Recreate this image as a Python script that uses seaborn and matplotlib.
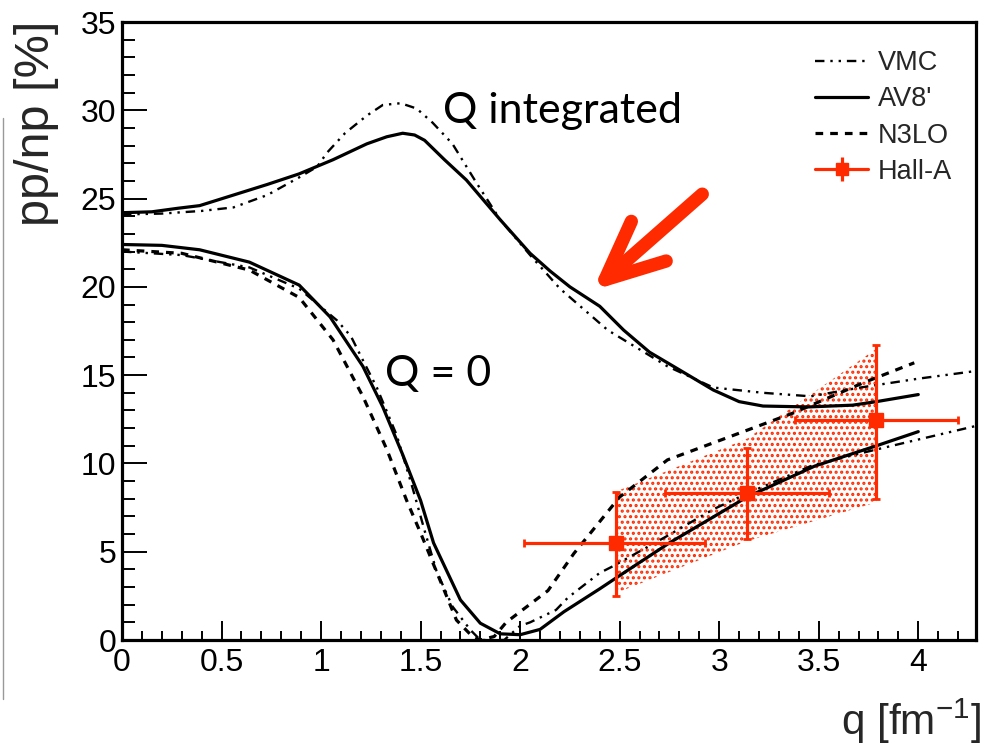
import matplotlib
matplotlib.use("Agg")
import matplotlib.pyplot as plt
import seaborn as sns
from matplotlib.lines import Line2D
from matplotlib.patches import ArrowStyle

# ---------------- data ----------------
# Q integrated curves
qint_av8_q = [0.0, 0.15, 0.28, 0.39, 0.56, 0.73, 0.89, 1.06, 1.23, 1.33, 1.41, 1.47, 1.52, 1.62,
              1.73, 1.90, 2.05, 2.15, 2.25, 2.40, 2.52, 2.65, 2.80, 2.97, 3.10, 3.22, 3.45,
              3.67, 3.79, 4.00]
qint_av8_r = [24.2, 24.25, 24.45, 24.6, 25.2, 25.8, 26.4, 27.2, 28.1, 28.5, 28.7, 28.6, 28.3, 27.2,
              26.05, 23.8, 21.9, 20.9, 20.0, 18.9, 17.55, 16.3, 15.3, 14.16, 13.5, 13.25, 13.2,
              13.3, 13.5, 13.9]

qint_vmc_q = [0.0, 0.2, 0.4, 0.56, 0.73, 0.89, 0.98, 1.03, 1.12, 1.23, 1.31, 1.40, 1.48, 1.56,
              1.66, 1.78, 1.90, 2.05, 2.20, 2.44, 2.74, 2.97, 3.22, 3.46, 3.71, 4.00, 4.30]
qint_vmc_r = [24.1, 24.15, 24.3, 24.5, 25.2, 26.2, 26.8, 27.6, 28.7, 29.7, 30.3, 30.4, 30.1, 29.3,
              28.1, 25.9, 23.8, 21.8, 19.9, 17.55, 15.5, 14.3, 14.0, 13.8, 14.3, 14.8, 15.25]

# Q = 0 curves
q0_av8_q = [0.0, 0.2, 0.39, 0.64, 0.89, 1.045, 1.21, 1.31, 1.41, 1.50, 1.565, 1.70, 1.80, 1.90,
            2.00, 2.10, 2.22, 2.40, 2.48, 2.75, 3.14, 3.48, 3.79, 4.00]
q0_av8_r = [22.4, 22.35, 22.1, 21.4, 20.1, 18.3, 15.5, 13.2, 10.5, 7.9, 5.5, 2.27, 0.95, 0.35,
            0.3, 0.6, 1.6, 2.9, 3.5, 5.5, 8.1, 9.85, 11.0, 11.8]

q0_n3lo_q = [0.0, 0.3, 0.64, 0.89, 1.06, 1.21, 1.33, 1.43, 1.50, 1.68, 1.76, 1.80, 1.87, 1.93,
             2.00, 2.14, 2.27, 2.50, 2.74, 3.05, 3.37, 3.72, 3.98]
q0_n3lo_r = [22.1, 21.9, 20.95, 19.4, 17.0, 13.8, 10.8, 7.9, 6.06, 1.13, 0.2, 0.0, 0.2, 1.0,
             1.6, 2.8, 4.9, 8.1, 10.2, 11.5, 12.85, 14.55, 15.7]

q0_vmc_q = [0.0, 0.3, 0.64, 0.89, 1.08, 1.15, 1.21, 1.28, 1.38, 1.46, 1.52, 1.58, 1.66, 1.75,
            1.80, 1.92, 2.00, 2.05, 2.18, 2.24, 2.40, 2.47, 2.74, 2.97, 3.14, 3.47, 3.72, 3.98, 4.30]
q0_vmc_r = [22.0, 21.8, 21.1, 19.9, 18.1, 17.2, 15.85, 14.3, 11.6, 8.6, 6.2, 3.9, 1.9, 0.57,
            0.0, 0.0, 0.8, 1.0, 1.7, 2.4, 3.8, 4.2, 5.9, 7.4, 8.3, 9.9, 10.6, 11.3, 12.15]

# Hall-A data points
halla_q = [2.48, 3.14, 3.79]
halla_r = [5.5, 8.3, 12.45]
halla_q_lo = [0.46, 0.41, 0.41]
halla_q_hi = [0.45, 0.41, 0.41]
halla_r_lo = [3.0, 2.6, 4.45]
halla_r_hi = [2.9, 2.6, 4.25]

# Hall-A uncertainty band
band_q = [2.48, 3.14, 3.79]
band_lo = [2.65, 5.6, 7.8]
band_hi = [8.4, 11.4, 16.5]

# Axis ticks
x_ticks = [0, 0.5, 1, 1.5, 2, 2.5, 3, 3.5, 4]
x_tick_labels = ["0", "0.5", "1", "1.5", "2", "2.5", "3", "3.5", "4"]
y_ticks = [0, 5, 10, 15, 20, 25, 30, 35]
y_tick_labels = ["0", "5", "10", "15", "20", "25", "30", "35"]

# ---------------- style ----------------
sns.set_style("white")
plt.rcParams["font.family"] = ["Liberation Sans", "DejaVu Sans"]
plt.rcParams["mathtext.fontset"] = "custom"
plt.rcParams["mathtext.rm"] = "Liberation Sans"
plt.rcParams["hatch.linewidth"] = 1.5

RED = "#FF2A00"
W, H = 984, 749
fig = plt.figure(figsize=(W / 100, H / 100), dpi=100)
fig.patch.set_facecolor("white")
ax = fig.add_axes([122 / W, 1 - 640 / H, (976 - 122) / W, (640 - 22) / H])
ax.set_facecolor("white")

# Hall-A band (red stipple)
ax.fill_between(band_q, band_lo, band_hi, facecolor="none", edgecolor=RED,
                hatch="...", linewidth=0, zorder=1)

vmc_dash = (0, (4, 2.5, 1, 2.5, 1, 2.5))
n3lo_dash = (0, (2.4, 2.2))

# curves
sns.lineplot(x=qint_vmc_q, y=qint_vmc_r, ax=ax, color="black", lw=1.7, sort=False,
             estimator=None, zorder=3)
ax.lines[-1].set_linestyle(vmc_dash)
sns.lineplot(x=qint_av8_q, y=qint_av8_r, ax=ax, color="black", lw=2.3, sort=False,
             estimator=None, zorder=3)
sns.lineplot(x=q0_vmc_q, y=q0_vmc_r, ax=ax, color="black", lw=1.7, sort=False,
             estimator=None, zorder=3)
ax.lines[-1].set_linestyle(vmc_dash)
sns.lineplot(x=q0_av8_q, y=q0_av8_r, ax=ax, color="black", lw=2.3, sort=False,
             estimator=None, zorder=3)
sns.lineplot(x=q0_n3lo_q, y=q0_n3lo_r, ax=ax, color="black", lw=2.3, sort=False,
             estimator=None, zorder=3)
ax.lines[-1].set_linestyle(n3lo_dash)

# Hall-A data
ax.errorbar(halla_q, halla_r, xerr=[halla_q_lo, halla_q_hi], yerr=[halla_r_lo, halla_r_hi],
            fmt="s", color=RED, ms=9.5, elinewidth=2.3, capsize=3, capthick=2,
            zorder=4, clip_on=False)

ax.set_xlim(0, 4.29)
ax.set_ylim(0, 35)
ax.set_xticks(x_ticks)
ax.set_xticklabels(x_tick_labels)
ax.set_yticks(y_ticks)
ax.set_yticklabels(y_tick_labels)
ax.set_xticks([i / 10 for i in range(0, 43) if i % 5], minor=True)
ax.set_yticks([i for i in range(0, 36) if i % 5], minor=True)
ax.tick_params(axis="both", which="both", direction="in", bottom=True, left=True,
               top=False, right=False, labelsize=23, colors="black", width=1.4)
ax.tick_params(axis="x", which="major", length=13.5, pad=6)
ax.tick_params(axis="x", which="minor", length=6.8)
ax.tick_params(axis="y", which="major", length=18, pad=4)
ax.tick_params(axis="y", which="minor", length=9.5)
for sp in ax.spines.values():
    sp.set_visible(True)
    sp.set_color("black")
    sp.set_linewidth(2.3)
    sp.set_zorder(5)

# axis titles
fig.text(37 / W, 1 - 21 / H, "pp/np [%]", rotation=90, ha="center", va="top", fontsize=35)
fig.text(981 / W, 3 / H, "q [fm$^{\\mathregular{-1}}$]", ha="right", va="bottom", fontsize=30.5)

# annotations
ax.text(1.613, 29.3, "Q integrated", fontsize=31, family=["Lato", "DejaVu Sans"],
        ha="left", va="baseline", color="black")
ax.text(1.32, 14.4, "Q = 0", fontsize=31, family=["Lato", "DejaVu Sans"],
        ha="left", va="baseline", color="black")
ax.annotate("", xy=(2.365, 19.8), xytext=(2.915, 25.25),
            arrowprops=dict(arrowstyle=ArrowStyle("->", head_length=0.42, head_width=0.19),
                            mutation_scale=100, color=RED, lw=9.6, shrinkA=0, shrinkB=0,
                            capstyle="round", joinstyle="round"))

# legend
hall_handle = (Line2D([], [], color=RED, lw=2.3, marker="s", ms=9),
               Line2D([], [], color=RED, lw=0, marker="|", ms=17, mew=2.3))
handles = [Line2D([], [], color="black", lw=1.7, linestyle=vmc_dash),
           Line2D([], [], color="black", lw=2.3),
           Line2D([], [], color="black", lw=2.3, linestyle=n3lo_dash),
           hall_handle]
labels = ["VMC", "AV8'", "N3LO", "Hall-A"]
fig.legend(handles, labels, loc="upper left", bbox_to_anchor=(815 / W, 1 - 50 / H),
           frameon=False, fontsize=19.5, handlelength=1.96, handletextpad=0.37,
           labelspacing=0.38, borderpad=0, borderaxespad=0)

# slide remnant at the far left
fig.add_artist(Line2D([2.5 / W, 2.5 / W], [1 - 118 / H, 1 - 699 / H], color="#999999", lw=1))

fig.savefig("out.png", dpi=100, facecolor="white")
